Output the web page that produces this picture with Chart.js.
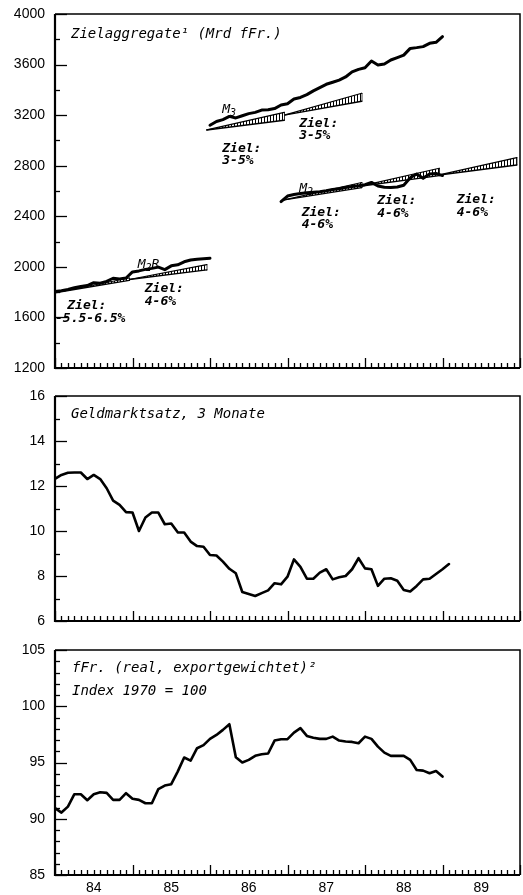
<!DOCTYPE html>
<html>
<head>
<meta charset="utf-8">
<script src="https://cdn.jsdelivr.net/npm/chart.js@4/dist/chart.umd.min.js"></script>
<style>
  html, body { margin: 0; padding: 0; background: #fff; }
  #wrap { position: relative; width: 523px; height: 895px; }
  canvas { position: absolute; left: 0; }
</style>
</head>
<body>
<div id="wrap">
  <canvas id="agg" width="523" height="382" style="top:0px"></canvas>
  <canvas id="rate" width="523" height="250" style="top:382px"></canvas>
  <canvas id="ffr" width="523" height="263" style="top:632px"></canvas>
</div>
<script>
// Time axis: months since January 1984, year labels centred on each year
const yearLabels = ['84', '85', '86', '87', '88', '89'];

// Monetary aggregates, Mrd fFr., monthly
const m2rStart = 0;
const m2r = [1805, 1812, 1822, 1835, 1845, 1852, 1875, 1870, 1885, 1910, 1905, 1912,
             1960, 1968, 1980, 1988, 1998, 1978, 2008, 2016, 2040, 2054, 2060, 2064, 2068];
const m3Start = 24;
const m3 = [3120, 3150, 3165, 3190, 3178, 3195, 3212, 3222, 3240, 3242, 3252, 3280,
            3290, 3328, 3340, 3362, 3392, 3418, 3444, 3460, 3477, 3502, 3542, 3562,
            3575, 3628, 3597, 3605, 3636, 3655, 3675, 3728, 3734, 3742, 3768, 3776, 3821];
const m2Start = 35;
const m2 = [2516, 2560, 2572, 2580, 2586, 2590, 2594, 2602, 2612, 2618, 2628, 2636,
            2642, 2650, 2668, 2640, 2630, 2628, 2632, 2645, 2705, 2735, 2700, 2735, 2738, 2722];

// Target corridors (start/end month, base level, lower and upper end level)
const targetFrom = [0, 11.5, 23.5, 35.5, 35.5, 47.5, 59.5];
const targetTo   = [11.5, 23.5, 35.5, 47.5, 47.5, 59.5, 71.5];
const targetBase = [1795, 1900, 3083, 3200, 2530, 2640, 2727];
const targetLow  = [1893, 1976, 3160, 3310, 2627, 2722, 2806];
const targetHigh = [1912, 2018, 3222, 3373, 2667, 2780, 2864];

// 3-month money market rate, %
const rateStart = 0;
const rate3m = [12.32, 12.49, 12.59, 12.6, 12.6, 12.31, 12.49, 12.31, 11.9, 11.35, 11.16, 10.84,
                10.82, 10.0, 10.6, 10.82, 10.82, 10.3, 10.33, 9.94, 9.93, 9.53, 9.33, 9.3,
                8.93, 8.91, 8.64, 8.32, 8.12, 7.29, 7.2, 7.11, 7.24, 7.36, 7.68, 7.63,
                7.97, 8.74, 8.41, 7.88, 7.88, 8.15, 8.30, 7.85, 7.94, 8.0, 8.3, 8.79,
                8.34, 8.3, 7.56, 7.88, 7.9, 7.79, 7.38, 7.31, 7.56, 7.85, 7.88, 8.09, 8.3, 8.53];

// Real export-weighted franc, index 1970 = 100
const ffrStart = 0;
const ffrIndex = [90.94, 90.55, 91.08, 92.18, 92.18, 91.65, 92.18, 92.36, 92.3, 91.68, 91.68, 92.27,
                  91.77, 91.68, 91.38, 91.38, 92.63, 92.95, 93.07, 94.19, 95.44, 95.17, 96.27, 96.54,
                  97.1, 97.45, 97.9, 98.4, 95.47, 95.0, 95.23, 95.59, 95.74, 95.8, 96.95, 97.07,
                  97.07, 97.66, 98.05, 97.36, 97.2, 97.1, 97.1, 97.3, 96.95, 96.86, 96.83, 96.71,
                  97.3, 97.1, 96.41, 95.88, 95.59, 95.59, 95.59, 95.23, 94.34, 94.28, 94.05, 94.25, 93.75];

const MONO = '"DejaVu Sans Mono", "Liberation Mono", monospace';
const SANS = '"Liberation Sans", Arial, sans-serif';

function series(start, values) {
  return values.map((v, i) => ({ x: start + i, y: v }));
}

// vertical hatching for the target corridors
function hatch() {
  const c = document.createElement('canvas');
  c.width = 3; c.height = 3;
  const g = c.getContext('2d');
  g.fillStyle = '#fff'; g.fillRect(0, 0, 3, 3);
  g.fillStyle = '#000'; g.fillRect(0, 0, 1, 3);
  return g.createPattern(c, 'repeat');
}

// inner tick marks and the panel frame
const frameTicks = {
  id: 'frameTicks',
  afterDraw(chart) {
    const { ctx, chartArea: a, scales } = chart;
    const xs = scales.x, ys = scales.y;
    ctx.save();
    ctx.strokeStyle = '#000';
    ctx.lineWidth = 1.3;
    ys.ticks.forEach(t => {
      const y = Math.round(ys.getPixelForValue(t.value)) + 0.5;
      const len = t.label ? 12 : 5;
      ctx.beginPath(); ctx.moveTo(a.left, y); ctx.lineTo(a.left + len, y); ctx.stroke();
    });
    xs.ticks.forEach(t => {
      const x = Math.round(xs.getPixelForValue(t.value)) + 0.5;
      const len = t.value % 12 === 0 ? 10 : 5;
      ctx.beginPath(); ctx.moveTo(x, a.bottom); ctx.lineTo(x, a.bottom - len); ctx.stroke();
    });
    ctx.lineWidth = 1.5;
    ctx.beginPath();
    ctx.moveTo(a.left, a.top); ctx.lineTo(a.right, a.top); ctx.lineTo(a.right, a.bottom);
    ctx.stroke();
    ctx.lineWidth = 2.2;
    ctx.beginPath();
    ctx.moveTo(a.left, a.top); ctx.lineTo(a.left, a.bottom); ctx.lineTo(a.right, a.bottom);
    ctx.stroke();
    ctx.restore();
  }
};

// text inside the panels: titles (relative to the plot area) and labels at data positions
function notes(items) {
  return {
    id: 'notes',
    afterDatasetsDraw(chart) {
      const { ctx, chartArea: a, scales } = chart;
      ctx.save();
      ctx.fillStyle = '#000';
      ctx.textBaseline = 'alphabetic';
      ctx.textAlign = 'left';
      items.forEach(it => {
        let x, y;
        if (it.area) { x = a.left + it.dx; y = a.top + it.dy; }
        else { x = scales.x.getPixelForValue(it.x); y = scales.y.getPixelForValue(it.y); }
        const size = it.size || 13;
        const weight = it.bold ? 'bold ' : '';
        const parts = it.parts || [{ t: it.text }];
        let cx = x;
        parts.forEach(p => {
          const s = p.sub ? Math.round(size * 0.75) : size;
          ctx.font = `italic ${weight}${s}px ${MONO}`;
          ctx.fillText(p.t, cx, y + (p.sub ? 3 : 0));
          cx += ctx.measureText(p.t).width;
        });
      });
      ctx.restore();
    }
  };
}

function makeChart(id, cfg) {
  return new Chart(document.getElementById(id), {
    type: 'line',
    data: { datasets: cfg.datasets },
    options: {
      responsive: false,
      animation: false,
      devicePixelRatio: 1,
      layout: { padding: { top: cfg.padTop, right: 3, left: 0, bottom: 0 } },
      plugins: { legend: { display: false }, tooltip: { enabled: false } },
      elements: {
        point: { radius: 0 },
        line: { tension: 0, borderJoinStyle: 'round', borderCapStyle: 'round' }
      },
      scales: {
        x: {
          type: 'linear', min: 0, max: 72,
          afterFit: s => { s.height = cfg.xHeight; s.paddingLeft = 0; s.paddingRight = 0; },
          grid: { display: false, drawTicks: false }, border: { display: false },
          ticks: {
            display: cfg.xLabels, stepSize: 1, autoSkip: false, maxRotation: 0, minRotation: 0,
            padding: 5, color: '#000', font: { family: SANS, size: 14 },
            callback: v => (v % 12 === 6 ? yearLabels[(v - 6) / 12] : '')
          }
        },
        y: {
          min: cfg.yMin, max: cfg.yMax,
          afterFit: s => { s.width = 55; s.paddingTop = 0; s.paddingBottom = 0; },
          grid: { display: false, drawTicks: false }, border: { display: false },
          ticks: {
            stepSize: cfg.yStep, autoSkip: false, padding: 10, color: '#000',
            font: { family: SANS, size: 14 },
            callback: v => (cfg.isMajor(v) ? String(v) : '')
          }
        }
      }
    },
    plugins: [frameTicks, notes(cfg.notes)]
  });
}

// ---- panel 1: target aggregates ----
const pattern = hatch();
const aggSets = [
  { data: series(m3Start, m3), borderColor: '#000', borderWidth: 3, fill: false },
  { data: series(m2Start, m2), borderColor: '#000', borderWidth: 3, fill: false },
  { data: series(m2rStart, m2r), borderColor: '#000', borderWidth: 3, fill: false }
];
targetFrom.forEach((f, i) => {
  const t = targetTo[i];
  aggSets.push({ data: [{ x: f, y: targetBase[i] }, { x: t, y: targetLow[i] }],
                 borderColor: '#000', borderWidth: 1.4, fill: false });
  aggSets.push({ data: [{ x: f, y: targetBase[i] }, { x: t, y: targetHigh[i] }],
                 borderColor: '#000', borderWidth: 1.2, fill: '-1', backgroundColor: pattern });
  aggSets.push({ data: [{ x: t, y: targetLow[i] }, { x: t, y: targetHigh[i] }],
                 borderColor: '#000', borderWidth: 1.2, fill: false });
});

makeChart('agg', {
  padTop: 14, xHeight: 14, xLabels: false,
  yMin: 1200, yMax: 4000, yStep: 200, isMajor: v => v % 400 === 0,
  datasets: aggSets,
  notes: [
    { area: true, dx: 16, dy: 24, size: 14, text: 'Zielaggregate\u00b9 (Mrd fFr.)' },
    { x: 25.9, y: 3217, parts: [{ t: 'M' }, { t: '3', sub: true }] },
    { x: 25.9, y: 2909, bold: true, text: 'Ziel:' },
    { x: 25.9, y: 2814, bold: true, text: '3-5%' },
    { x: 37.8, y: 3107, bold: true, text: 'Ziel:' },
    { x: 37.8, y: 3012, bold: true, text: '3-5%' },
    { x: 37.8, y: 2593, parts: [{ t: 'M' }, { t: '2', sub: true }] },
    { x: 38.2, y: 2403, bold: true, text: 'Ziel:' },
    { x: 38.2, y: 2308, bold: true, text: '4-6%' },
    { x: 49.9, y: 2498, bold: true, text: 'Ziel:' },
    { x: 49.9, y: 2395, bold: true, text: '4-6%' },
    { x: 62.2, y: 2506, bold: true, text: 'Ziel:' },
    { x: 62.2, y: 2403, bold: true, text: '4-6%' },
    { x: 12.8, y: 1992, parts: [{ t: 'M' }, { t: '2', sub: true }, { t: 'R' }] },
    { x: 13.9, y: 1802, bold: true, text: 'Ziel:' },
    { x: 13.9, y: 1700, bold: true, text: '4-6%' },
    { x: 1.9, y: 1668, bold: true, text: 'Ziel:' },
    { x: 0, y: 1565, bold: true, text: '-5.5-6.5%' }
  ]
});

// ---- panel 2: money market rate ----
makeChart('rate', {
  padTop: 14, xHeight: 11, xLabels: false,
  yMin: 6, yMax: 16, yStep: 1, isMajor: v => v % 2 === 0,
  datasets: [{ data: series(rateStart, rate3m), borderColor: '#000', borderWidth: 2.6, fill: false }],
  notes: [{ area: true, dx: 16, dy: 22, size: 14, text: 'Geldmarktsatz, 3 Monate' }]
});

// ---- panel 3: real effective franc ----
makeChart('ffr', {
  padTop: 18, xHeight: 20, xLabels: true,
  yMin: 85, yMax: 105, yStep: 1, isMajor: v => v % 5 === 0,
  datasets: [{ data: series(ffrStart, ffrIndex), borderColor: '#000', borderWidth: 2.6, fill: false }],
  notes: [
    { area: true, dx: 17, dy: 22, size: 14, text: 'fFr. (real, exportgewichtet)\u00b2' },
    { area: true, dx: 17, dy: 45, size: 14, text: 'Index 1970 = 100' }
  ]
});
</script>
</body>
</html>
